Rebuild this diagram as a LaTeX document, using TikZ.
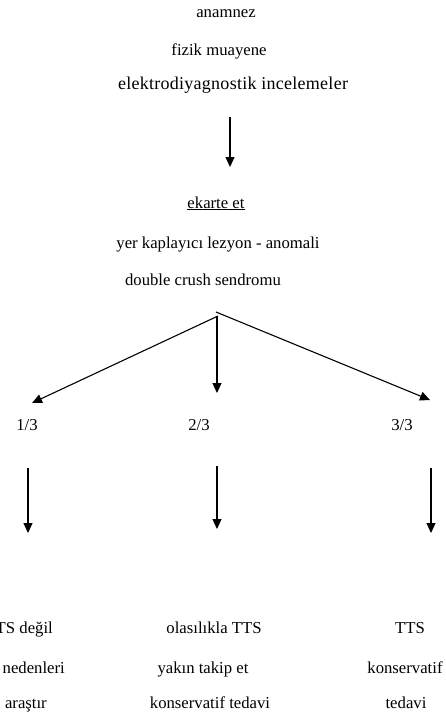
\documentclass[tikz,border=0pt]{standalone}
\usepackage{fontspec}
\setmainfont{Liberation Serif}
\usetikzlibrary{arrows.meta}
\begin{document}
\begin{tikzpicture}[x=1pt,y=-1pt,
  lbl/.style={inner sep=0pt,anchor=base,font=\fontsize{16.7}{20}\selectfont},
  lble/.style={lbl,anchor=base east},
  arr/.style={line width=1.1pt,-{Triangle[length=10pt,width=9pt]}}]
\useasboundingbox (0,0) rectangle (446,721);
\clip (0,0) rectangle (446,721);
% top texts
\node[lbl] (t1) at (226,17) {anamnez};
\node[lbl] (t2) at (219,55) {fizik muayene};
\node[lbl,font=\fontsize{18}{21}\selectfont] (t3) at (233,89) {\addfontfeature{LetterSpace=1.5}elektrodiyagnostik incelemeler};
\node[lbl] (m1) at (216,208) {\underline{ekarte et}};
\node[lbl] (m2) at (218,248) {yer kaplayıcı lezyon - anomali};
\node[lbl] (m3) at (203,285) {double crush sendromu};
% fractions
\node[lbl] (f1) at (27,430) {1/3};
\node[lbl] (f2) at (199,430) {2/3};
\node[lbl] (f3) at (402,430) {3/3};
% bottom texts
\node[lble] (l1) at (53,633) {TTS değil};
\node[lble] (l2) at (65,673) {diğer nedenleri};
\node[lble] (l3) at (47,708) {araştır};
\node[lbl] (c1) at (214,633) {olasılıkla TTS};
\node[lbl] (c2) at (203,673) {yakın takip et};
\node[lbl] (c3) at (210,708) {konservatif tedavi};
\node[lbl] (r1) at (410,633) {TTS};
\node[lbl] (r2) at (405,673) {konservatif};
\node[lbl] (r3) at (406,708) {tedavi};
% arrow end points
\coordinate (a0s) at (230,117);
\coordinate (a0e) at (230,167);
\coordinate (bR) at (216,312);
\coordinate (bL) at (218,316);
\coordinate (bM) at (217,316);
\coordinate (eL) at (32,403);
\coordinate (eM) at (217,393);
\coordinate (eR) at (430,400);
\coordinate (dLs) at (28,468);
\coordinate (dLe) at (28,533);
\coordinate (dMs) at (217,466);
\coordinate (dMe) at (217,529);
\coordinate (dRs) at (431,468);
\coordinate (dRe) at (431,533);
% arrows
\draw[arr] (a0s) -- (a0e);
\draw[arr] (bL) -- (eL);
\draw[arr] (bM) -- (eM);
\draw[arr] (bR) -- (eR);
\draw[arr] (dLs) -- (dLe);
\draw[arr] (dMs) -- (dMe);
\draw[arr] (dRs) -- (dRe);
\end{tikzpicture}
\end{document}
